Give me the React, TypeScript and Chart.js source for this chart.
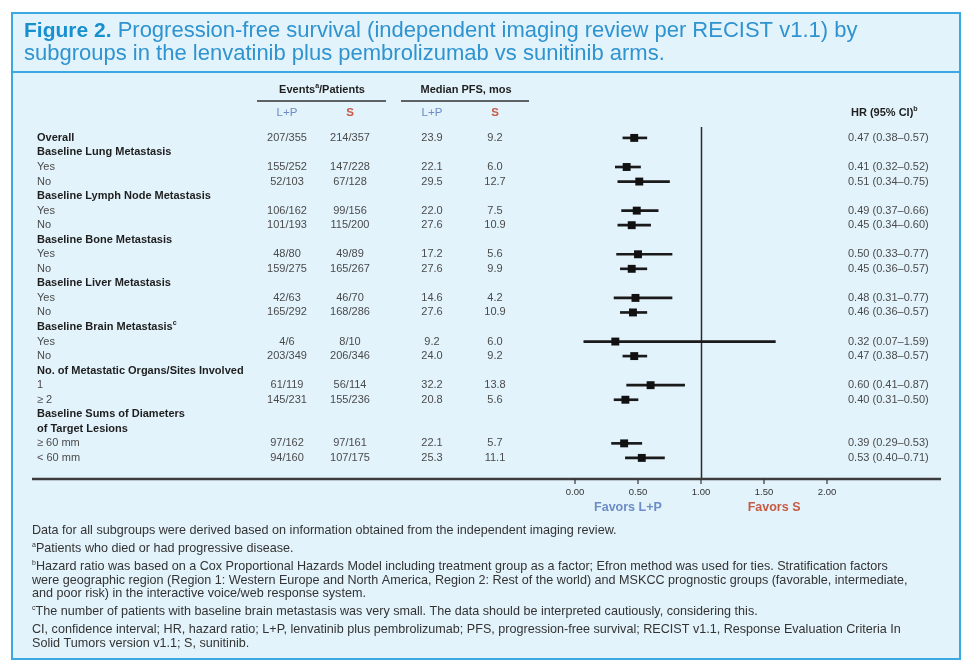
import React, { useEffect, useRef } from "react";
import { Chart, registerables } from "chart.js";

Chart.register(...registerables);

const W = 973;
const H = 669;
const FONT = '"Liberation Sans", Arial, Helvetica, sans-serif';

// ---------- data ----------
const ROW_LABELS = [
  "Overall",
  "Baseline Lung Metastasis", "Yes", "No",
  "Baseline Lymph Node Metastasis", "Yes", "No",
  "Baseline Bone Metastasis", "Yes", "No",
  "Baseline Liver Metastasis", "Yes", "No",
  "Baseline Brain Metastasis", "Yes", "No",
  "No. of Metastatic Organs/Sites Involved", "1", "\u2265 2",
  "Baseline Sums of Diameters", "of Target Lesions", "\u2265 60 mm", "< 60 mm",
];
const BOLD_ROWS = [0, 1, 4, 7, 10, 13, 16, 19, 20];
const ROW_SUPERSCRIPT: Record<number, string> = { 13: "c" };

const DATA_ROWS = [0, 2, 3, 5, 6, 8, 9, 11, 12, 14, 15, 17, 18, 21, 22];
const EVENTS_LP = ["207/355", "155/252", "52/103", "106/162", "101/193", "48/80", "159/275", "42/63", "165/292", "4/6", "203/349", "61/119", "145/231", "97/162", "94/160"];
const EVENTS_S = ["214/357", "147/228", "67/128", "99/156", "115/200", "49/89", "165/267", "46/70", "168/286", "8/10", "206/346", "56/114", "155/236", "97/161", "107/175"];
const MEDIAN_LP = ["23.9", "22.1", "29.5", "22.0", "27.6", "17.2", "27.6", "14.6", "27.6", "9.2", "24.0", "32.2", "20.8", "22.1", "25.3"];
const MEDIAN_S = ["9.2", "6.0", "12.7", "7.5", "10.9", "5.6", "9.9", "4.2", "10.9", "6.0", "9.2", "13.8", "5.6", "5.7", "11.1"];
const HR = [0.47, 0.41, 0.51, 0.49, 0.45, 0.50, 0.45, 0.48, 0.46, 0.32, 0.47, 0.60, 0.40, 0.39, 0.53];
const CI_LOW = [0.38, 0.32, 0.34, 0.37, 0.34, 0.33, 0.36, 0.31, 0.36, 0.07, 0.38, 0.41, 0.31, 0.29, 0.40];
const CI_HIGH = [0.57, 0.52, 0.75, 0.66, 0.60, 0.77, 0.57, 0.77, 0.57, 1.59, 0.57, 0.87, 0.50, 0.53, 0.71];

const X_TICKS = [0, 0.5, 1, 1.5, 2];
const REF_LINE = 1;

const TITLE_BOLD = "Figure 2.";
const TITLE_LINE1 = " Progression-free survival (independent imaging review per RECIST v1.1) by";
const TITLE_LINE2 = "subgroups in the lenvatinib plus pembrolizumab vs sunitinib arms.";

const FOOTNOTE_SUPS = ["", "a", "b", "", "", "c", "", ""];
const FOOTNOTE_LINES = [
  "Data for all subgroups were derived based on information obtained from the independent imaging review.",
  "Patients who died or had progressive disease.",
  "Hazard ratio was based on a Cox Proportional Hazards Model including treatment group as a factor; Efron method was used for ties. Stratification factors",
  "were geographic region (Region 1: Western Europe and North America, Region 2: Rest of the world) and MSKCC prognostic groups (favorable, intermediate,",
  "and poor risk) in the interactive voice/web response system.",
  "The number of patients with baseline brain metastasis was very small. The data should be interpreted cautiously, considering this.",
  "CI, confidence interval; HR, hazard ratio; L+P, lenvatinib plus pembrolizumab; PFS, progression-free survival; RECIST v1.1, Response Evaluation Criteria In",
  "Solid Tumors version v1.1; S, sunitinib.",
];

// ---------- layout (styles) ----------
const FOOTNOTE_Y = [531, 549, 567, 580.5, 594, 612, 629.5, 643.5];
const COL_EVENTS_LP = 287;
const COL_EVENTS_S = 350;
const COL_MED_LP = 432;
const COL_MED_S = 495;
const COL_HR = 848;
const LABEL_X = 37;
const BLUE = "#6b8cc6";
const RED = "#c65a43";

type Part = { t: string; font: string; color: string; sup?: boolean };

function drawRich(ctx: CanvasRenderingContext2D, x: number, y: number, parts: Part[], align: "left" | "center" | "right") {
  let total = 0;
  for (const p of parts) {
    ctx.font = p.font;
    total += ctx.measureText(p.t).width;
  }
  let cx = align === "left" ? x : align === "center" ? x - total / 2 : x - total;
  ctx.textAlign = "left";
  ctx.textBaseline = "middle";
  for (const p of parts) {
    ctx.font = p.font;
    ctx.fillStyle = p.color;
    ctx.fillText(p.t, cx, p.sup ? y - 4 : y);
    cx += ctx.measureText(p.t).width;
  }
}

const drawPlugin = {
  id: "forestLayout",
  beforeDraw(chart: any) {
    const { ctx, scales, chartArea } = chart;
    const ys = scales.y;
    const xs = scales.x;
    ctx.save();
    // page + box
    ctx.fillStyle = "#ffffff";
    ctx.fillRect(0, 0, W, H);
    ctx.fillStyle = "#e3f3fb";
    ctx.fillRect(12, 13, 948, 646);
    ctx.strokeStyle = "#3aa9e1";
    ctx.lineWidth = 2;
    ctx.strokeRect(12, 13, 948, 646);
    ctx.beginPath();
    ctx.moveTo(12, 72);
    ctx.lineTo(960, 72);
    ctx.stroke();

    // title
    drawRich(ctx, 24, 31, [
      { t: TITLE_BOLD, font: `bold 21px ${FONT}`, color: "#1790d0" },
      { t: TITLE_LINE1, font: `22px ${FONT}`, color: "#2e93cf" },
    ], "left");
    drawRich(ctx, 24, 54, [{ t: TITLE_LINE2, font: `22px ${FONT}`, color: "#2e93cf" }], "left");

    // column headers
    const hb = `bold 11px ${FONT}`;
    const hs = `bold 7px ${FONT}`;
    drawRich(ctx, 322, 90, [
      { t: "Events", font: hb, color: "#1e1e1e" },
      { t: "a", font: hs, color: "#1e1e1e", sup: true },
      { t: "/Patients", font: hb, color: "#1e1e1e" },
    ], "center");
    drawRich(ctx, 466, 90, [{ t: "Median PFS, mos", font: hb, color: "#1e1e1e" }], "center");
    ctx.strokeStyle = "#333333";
    ctx.lineWidth = 1.5;
    ctx.beginPath();
    ctx.moveTo(257, 101); ctx.lineTo(386, 101);
    ctx.moveTo(401, 101); ctx.lineTo(529, 101);
    ctx.stroke();
    const sub = `11.5px ${FONT}`;
    const subB = `bold 11.5px ${FONT}`;
    drawRich(ctx, COL_EVENTS_LP, 113, [{ t: "L+P", font: sub, color: BLUE }], "center");
    drawRich(ctx, COL_EVENTS_S, 113, [{ t: "S", font: subB, color: RED }], "center");
    drawRich(ctx, COL_MED_LP, 113, [{ t: "L+P", font: sub, color: BLUE }], "center");
    drawRich(ctx, COL_MED_S, 113, [{ t: "S", font: subB, color: RED }], "center");
    drawRich(ctx, 851, 113, [
      { t: "HR (95% CI)", font: hb, color: "#1e1e1e" },
      { t: "b", font: hs, color: "#1e1e1e", sup: true },
    ], "left");

    // row labels
    ROW_LABELS.forEach((lab, i) => {
      const py = ys.getPixelForValue(i);
      const bold = BOLD_ROWS.includes(i);
      const parts: Part[] = [{ t: lab, font: bold ? `bold 11px ${FONT}` : `11px ${FONT}`, color: bold ? "#1e1e1e" : "#4a4a4a" }];
      if (ROW_SUPERSCRIPT[i]) parts.push({ t: ROW_SUPERSCRIPT[i], font: `bold 7px ${FONT}`, color: "#1e1e1e", sup: true });
      drawRich(ctx, LABEL_X, py, parts, "left");
    });

    // values
    const vf = `11px ${FONT}`;
    const vc = "#4a4a4a";
    DATA_ROWS.forEach((r, k) => {
      const py = ys.getPixelForValue(r);
      drawRich(ctx, COL_EVENTS_LP, py, [{ t: EVENTS_LP[k], font: vf, color: vc }], "center");
      drawRich(ctx, COL_EVENTS_S, py, [{ t: EVENTS_S[k], font: vf, color: vc }], "center");
      drawRich(ctx, COL_MED_LP, py, [{ t: MEDIAN_LP[k], font: vf, color: vc }], "center");
      drawRich(ctx, COL_MED_S, py, [{ t: MEDIAN_S[k], font: vf, color: vc }], "center");
      const txt = `${HR[k].toFixed(2)} (${CI_LOW[k].toFixed(2)}\u2013${CI_HIGH[k].toFixed(2)})`;
      drawRich(ctx, COL_HR, py, [{ t: txt, font: vf, color: vc }], "left");
    });

    // reference line at HR = 1
    const rx = Math.round(xs.getPixelForValue(REF_LINE)) + 0.5;
    ctx.strokeStyle = "#2a2a2a";
    ctx.lineWidth = 1.5;
    ctx.beginPath();
    ctx.moveTo(rx, chartArea.top);
    ctx.lineTo(rx, chartArea.bottom);
    ctx.stroke();

    // bottom rule (full width)
    ctx.strokeStyle = "#3c3c3c";
    ctx.lineWidth = 2.5;
    ctx.beginPath();
    ctx.moveTo(32, chartArea.bottom);
    ctx.lineTo(941, chartArea.bottom);
    ctx.stroke();

    // ticks
    ctx.strokeStyle = "#333333";
    ctx.lineWidth = 1.2;
    X_TICKS.forEach((t) => {
      const tx = xs.getPixelForValue(t);
      ctx.beginPath();
      ctx.moveTo(tx, chartArea.bottom);
      ctx.lineTo(tx, chartArea.bottom + 5);
      ctx.stroke();
      drawRich(ctx, tx, chartArea.bottom + 13, [{ t: t.toFixed(2), font: `9.5px ${FONT}`, color: "#333333" }], "center");
    });
    drawRich(ctx, xs.getPixelForValue(0.42), 508, [{ t: "Favors L+P", font: `bold 12.5px ${FONT}`, color: BLUE }], "center");
    drawRich(ctx, xs.getPixelForValue(1.58), 508, [{ t: "Favors S", font: `bold 12.5px ${FONT}`, color: RED }], "center");

    // footnotes
    FOOTNOTE_LINES.forEach((line, i) => {
      const parts: Part[] = [];
      if (FOOTNOTE_SUPS[i]) parts.push({ t: FOOTNOTE_SUPS[i], font: `7px ${FONT}`, color: "#333333", sup: true });
      parts.push({ t: line, font: `12.6px ${FONT}`, color: "#333333" });
      drawRich(ctx, 32, FOOTNOTE_Y[i], parts, "left");
    });

    ctx.restore();
  },
};

export default function App() {
  const ref = useRef<HTMLCanvasElement | null>(null);
  useEffect(() => {
    if (!ref.current) return;
    const chart = new Chart(ref.current, {
      type: "scatter",
      data: {
        datasets: [
          {
            type: "scatter",
            label: "HR",
            data: DATA_ROWS.map((r, k) => ({ x: HR[k], y: r })),
            pointStyle: "rect",
            pointRadius: 5.6,
            pointHoverRadius: 5.6,
            backgroundColor: "#111111",
            borderColor: "#111111",
            borderWidth: 0,
          } as any,
          {
            type: "bar",
            label: "95% CI",
            indexAxis: "y",
            data: DATA_ROWS.map((r, k) => ({ y: r, x: [CI_LOW[k], CI_HIGH[k]] })),
            barThickness: 2,
            backgroundColor: "#1a1a1a",
            borderWidth: 0,
          } as any,
        ],
      },
      options: {
        responsive: false,
        animation: false,
        layout: { padding: { left: 575, right: 146, top: 127, bottom: 190 } },
        scales: {
          x: { type: "linear", min: 0, max: 2, display: false, offset: false },
          y: { type: "linear", min: -0.75, max: 23.45, reverse: true, display: false, offset: false },
        },
        plugins: { legend: { display: false }, tooltip: { enabled: false } },
        events: [],
      },
      plugins: [drawPlugin],
    } as any);
    return () => chart.destroy();
  }, []);
  return (
    <div style={{ position: "fixed", left: 0, top: 0, width: W, height: H, background: "#fff" }}>
      <canvas ref={ref} width={W} height={H} style={{ display: "block", width: W, height: H }} />
    </div>
  );
}
